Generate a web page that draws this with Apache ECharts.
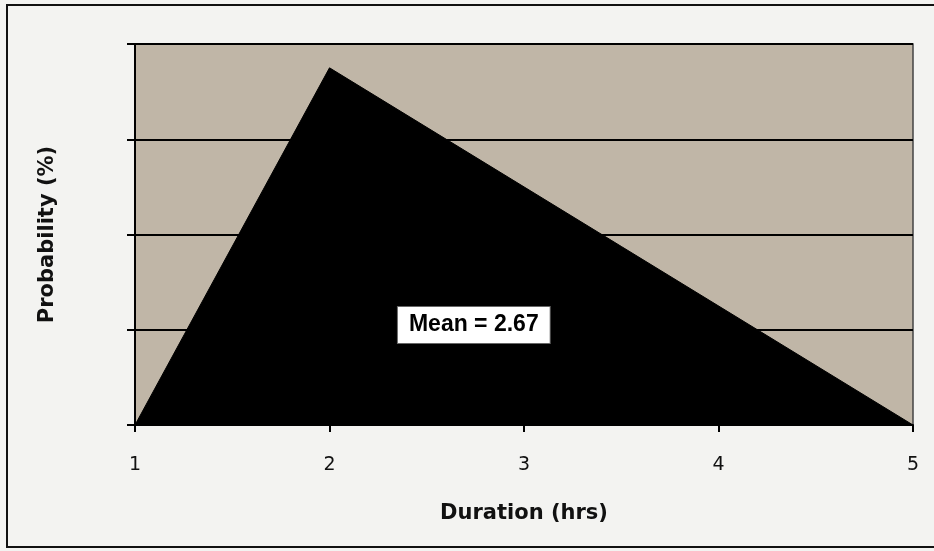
<!DOCTYPE html>
<html>
<head>
<meta charset="utf-8">
<script src="https://cdn.jsdelivr.net/npm/echarts@6/dist/echarts.min.js"></script>
<style>
  html, body { margin: 0; padding: 0; background: #f3f3f1; }
  #chart { width: 934px; height: 551px; }
</style>
</head>
<body>
<div id="chart"></div>
<script>
// Triangular duration distribution: min 1 h, most likely 2 h, max 5 h
const durations = [1, 2, 5];
const probability = [0, 50, 0];
const meanDuration = 2.67;
const xTicks = [1, 2, 3, 4, 5];
const yMax = 160 / 3;
const yStep = 40 / 3;

const chart = echarts.init(document.getElementById('chart'));
chart.setOption({
  backgroundColor: '#f3f3f1',
  animation: false,
  graphic: [{
    type: 'rect',
    shape: { x: 7, y: 5, width: 960, height: 542 },
    style: { fill: 'none', stroke: '#111', lineWidth: 2 },
    silent: true
  }],
  grid: {
    left: 135, right: 21, top: 44, bottom: 126,
    show: true,
    backgroundColor: '#c0b6a7',
    borderColor: '#444',
    borderWidth: 1.5
  },
  xAxis: {
    type: 'value',
    min: xTicks[0], max: xTicks[xTicks.length - 1], interval: 1,
    name: 'Duration (hrs)',
    nameLocation: 'middle',
    nameGap: 78,
    nameTextStyle: { fontFamily: 'DejaVu Sans', fontWeight: 'bold', fontSize: 21, color: '#111' },
    axisLine: { lineStyle: { color: '#000', width: 2 } },
    axisTick: { show: true, length: 7, lineStyle: { color: '#000', width: 2 } },
    axisLabel: { margin: 31, fontFamily: 'DejaVu Sans', fontSize: 19, color: '#111' },
    splitLine: { show: false }
  },
  yAxis: {
    type: 'value',
    min: 0, max: yMax, interval: yStep,
    name: 'Probability (%)',
    nameLocation: 'middle',
    nameGap: 77,
    nameTextStyle: { fontFamily: 'DejaVu Sans', fontWeight: 'bold', fontSize: 21, color: '#111' },
    axisLine: { show: true, lineStyle: { color: '#000', width: 2 } },
    axisTick: { show: true, length: 8, lineStyle: { color: '#000', width: 2 } },
    axisLabel: { show: false },
    splitLine: { show: true, lineStyle: { color: '#000', width: 2 } }
  },
  series: [{
    type: 'line',
    data: durations.map((d, i) => [d, probability[i]]),
    symbol: 'none',
    lineStyle: { color: '#000', width: 1 },
    areaStyle: { color: '#000', opacity: 1 },
    z: 3,
    markPoint: {
      symbol: 'rect',
      symbolSize: 0,
      data: [{ coord: [meanDuration, 14.0] }],
      label: {
        show: true,
        formatter: 'Mean = ' + meanDuration.toFixed(2),
        offset: [14, 0],
        fontFamily: 'Liberation Sans',
        fontWeight: 'bold',
        fontSize: 23,
        color: '#000',
        backgroundColor: '#fff',
        borderColor: '#666',
        borderWidth: 1,
        padding: [7, 11, 6, 11]
      }
    }
  }]
});
</script>
</body>
</html>
